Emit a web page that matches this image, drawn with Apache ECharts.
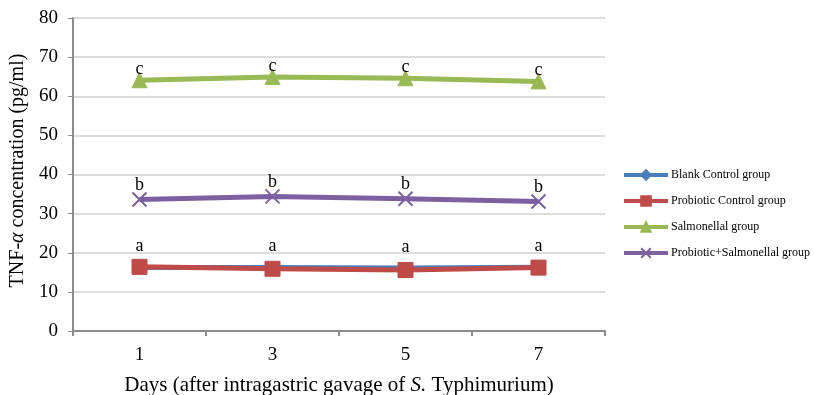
<!DOCTYPE html>
<html>
<head>
<meta charset="utf-8">
<script src="https://cdn.jsdelivr.net/npm/echarts@6/dist/echarts.min.js"></script>
<style>
  html, body { margin: 0; padding: 0; background: #fff; }
  #grafico { width: 814px; height: 395px; }
</style>
</head>
<body>
<div id="grafico"></div>
<script>
// datos
const dias = ['1', '3', '5', '7'];
const nombres = ['Blank Control group', 'Probiotic Control group', 'Salmonellal group', 'Probiotic+Salmonellal group'];
const blankControl = [16.2, 16.2, 16.1, 16.3];
const probioticControl = [16.4, 15.9, 15.6, 16.2];
const salmonellal = [64.1, 64.9, 64.6, 63.8];
const probioticSalmonellal = [33.6, 34.4, 33.8, 33.1];
const letras = ['a', 'a', 'b', 'c'];   // letra de significancia por serie
const yTicks = [0, 10, 20, 30, 40, 50, 60, 70, 80];

const fuente = "'Liberation Serif', 'Times New Roman', serif";
const colores = ['#4a7ebb', '#be4b48', '#98b954', '#7d60a0'];
const simboloX = 'path://M0,0 L10,8 M10,0 L0,8';

const dom = document.getElementById('grafico');
const chart = echarts.init(dom);

function serie(idx, valores, simbolo, tam, letra, dist) {
  return {
    name: nombres[idx],
    type: 'line',
    data: valores,
    symbol: simbolo,
    symbolSize: tam,
    lineStyle: { width: 5, color: colores[idx] },
    itemStyle: { color: colores[idx], borderColor: colores[idx], borderWidth: 1 },
    label: {
      show: !!letra,
      position: 'top',
      distance: dist,
      formatter: letra || '',
      fontFamily: fuente,
      fontSize: 18,
      color: '#000'
    },
    z: 2 + idx
  };
}

const option = {
  animation: false,
  backgroundColor: '#fff',
  textStyle: { fontFamily: fuente },
  grid: { left: 73, right: 209, top: 18, bottom: 64, outerBoundsMode: 'none', containLabel: false },
  legend: {
    orient: 'vertical',
    left: 617,
    top: 164,
    itemWidth: 44,
    itemHeight: 12,
    itemGap: 14,
    lineStyle: { width: 4 },
    textStyle: { fontFamily: fuente, fontSize: 12, color: '#000', padding: [0, 0, 0, -2] },
    data: nombres
  },
  xAxis: {
    type: 'category',
    data: dias,
    boundaryGap: true,
    name: '{n|Days (after intragastric gavage of }{i|S.}{n| Typhimurium)}',
    nameLocation: 'middle',
    nameGap: 44,
    nameTextStyle: {
      rich: {
        n: { fontFamily: fuente, fontSize: 21, color: '#000' },
        i: { fontFamily: fuente, fontSize: 21, color: '#000', fontStyle: 'italic' }
      }
    },
    axisLine: { lineStyle: { color: '#8c8c8c', width: 2 } },
    axisTick: { show: true, length: 5, lineStyle: { color: '#8c8c8c', width: 2 } },
    axisLabel: { fontFamily: fuente, fontSize: 19, color: '#000', margin: 15 },
    splitLine: { show: false }
  },
  yAxis: {
    type: 'value',
    min: yTicks[0],
    max: yTicks[yTicks.length - 1],
    interval: 10,
    name: '{n|TNF-}{i|α}{n| concentration (pg/ml)}',
    nameLocation: 'middle',
    nameGap: 37,
    nameRotate: 90,
    nameTextStyle: {
      padding: [0, 0, 0, 8],
      rich: {
        n: { fontFamily: fuente, fontSize: 20, color: '#000' },
        i: { fontFamily: fuente, fontSize: 20, color: '#000', fontStyle: 'italic' }
      }
    },
    axisLine: { show: true, lineStyle: { color: '#8c8c8c', width: 2 } },
    axisTick: { show: true, length: 5, lineStyle: { color: '#8c8c8c', width: 1 } },
    axisLabel: { fontFamily: fuente, fontSize: 19, color: '#000', margin: 15 },
    splitLine: { show: true, lineStyle: { color: '#dcdcdc', width: 2 } }
  },
  series: [
    serie(0, blankControl, 'diamond', 7, letras[0], 8),
    serie(1, probioticControl, 'rect', 15, null, 0),
    serie(2, salmonellal, 'triangle', 15, letras[3], -6),
    serie(3, probioticSalmonellal, simboloX, 14, letras[2], -3)
  ]
};

// la X se dibuja solo con trazo
option.series[3].itemStyle = { color: colores[3], borderColor: colores[3], borderWidth: 2 };

chart.setOption(option);
</script>
</body>
</html>
